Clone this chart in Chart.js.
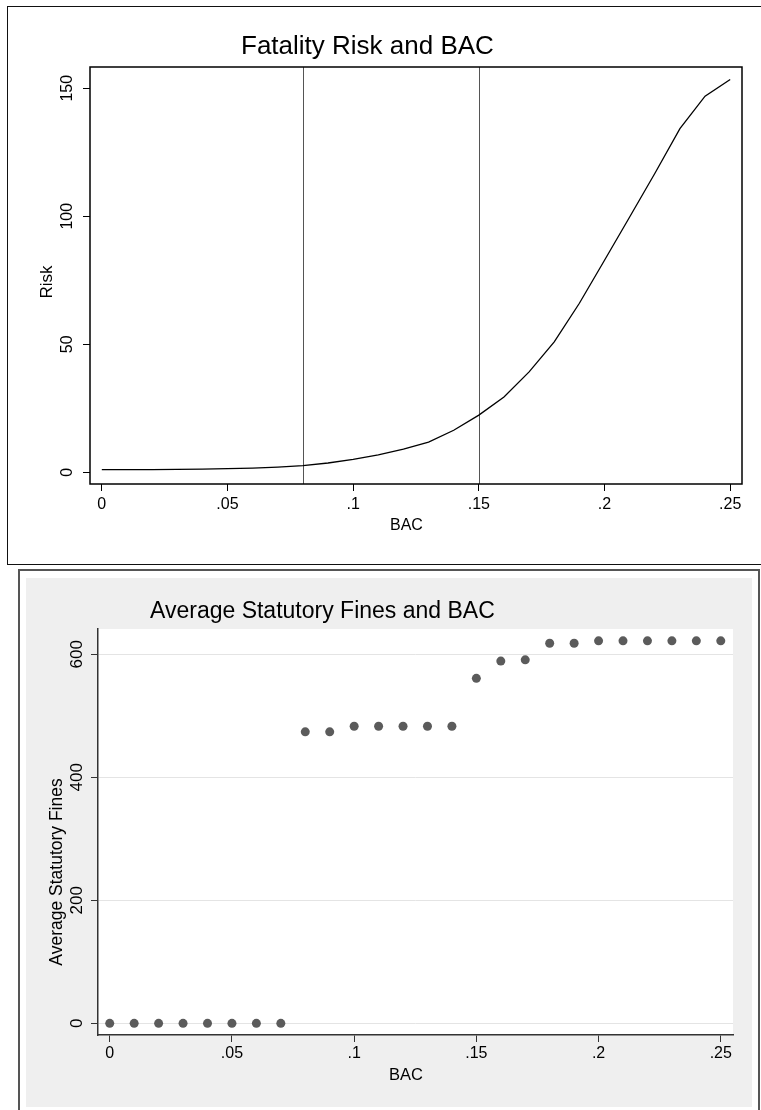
<!DOCTYPE html>
<html lang="en">
<head>
  <meta charset="UTF-8" />
  <title>Fatality Risk / Statutory Fines and BAC</title>
  <script src="https://cdn.jsdelivr.net/npm/chart.js@4.4.1/dist/chart.umd.min.js"></script>
  <style>
    body { margin: 0; background: #fff; font-family: 'Liberation Sans', Arial, sans-serif; }
    .frame1 { position: absolute; left: 7px; top: 6px; width: 770px; height: 559px; border: 1.5px solid #111; box-sizing: border-box; }
    .frame2 { position: absolute; left: 18px; top: 569px; width: 742px; height: 560px; border: 2px solid #555; box-sizing: border-box; }
    .shade { position: absolute; left: 26px; top: 578px; width: 726px; height: 529px; background: #efefef; }
    .wrap { position: absolute; left: 0; width: 761px; }
    #w1 { top: 0; height: 568px; }
    #w2 { top: 570px; height: 540px; }
  </style>
</head>
<body>
  <div class="frame1"></div>
  <div class="frame2"></div>
  <div class="shade"></div>
  <div class="wrap" id="w1"><canvas id="riskChart"></canvas></div>
  <div class="wrap" id="w2"><canvas id="finesChart"></canvas></div>

<script>
  // BAC levels (x) shared by both graphs
  const bac = [0, 0.01, 0.02, 0.03, 0.04, 0.05, 0.06, 0.07, 0.08, 0.09, 0.1, 0.11, 0.12,
               0.13, 0.14, 0.15, 0.16, 0.17, 0.18, 0.19, 0.2, 0.21, 0.22, 0.23, 0.24, 0.25];

  // relative fatality risk
  const risk = [1.0, 1.0, 1.05, 1.1, 1.2, 1.4, 1.6, 2.0, 2.6, 3.6, 5.0, 6.8, 9.0,
                11.8, 16.4, 22.3, 29.4, 39.2, 50.9, 66.0, 82.8, 99.7, 116.7, 134.2, 146.9, 153.4];

  // average statutory fines
  const fines = [0, 0, 0, 0, 0, 0, 0, 0, 474, 474, 483, 483, 483,
                 483, 483, 561, 589, 591, 618, 618, 622, 622, 622, 622, 622, 622];

  // vertical reference lines on the risk graph
  const refLines = [0.08, 0.15];

  const xTickVals = [0, 0.05, 0.1, 0.15, 0.2, 0.25];
  const xTickLabels = ['0', '.05', '.1', '.15', '.2', '.25'];
  const riskTickVals = [0, 50, 100, 150];
  const riskTickLabels = ['0', '50', '100', '150'];
  const fineTickVals = [0, 200, 400, 600];
  const fineTickLabels = ['0', '200', '400', '600'];

  const FONT = "'Liberation Sans', Arial, sans-serif";

  // texts drawn by hand: titles, axis titles, rotated y tick labels
  function textPlugin(cfg) {
    return {
      id: 'texts',
      beforeDraw(chart) {
        if (cfg.plotFill) {
          const a = chart.chartArea;
          const ctx = chart.ctx;
          ctx.save();
          ctx.fillStyle = cfg.plotFill;
          ctx.fillRect(a.left, a.top, a.right - a.left, a.bottom - a.top);
          ctx.restore();
        }
      },
      beforeDatasetsDraw(chart) {
        if (!cfg.refLines) return;
        const ctx = chart.ctx, a = chart.chartArea, xs = chart.scales.x;
        ctx.save();
        ctx.strokeStyle = '#555';
        ctx.lineWidth = 1;
        cfg.refLines.forEach(v => {
          const px = Math.round(xs.getPixelForValue(v)) + 0.5;
          ctx.beginPath();
          ctx.moveTo(px, a.top);
          ctx.lineTo(px, a.bottom);
          ctx.stroke();
        });
        ctx.restore();
      },
      afterDraw(chart) {
        const ctx = chart.ctx, a = chart.chartArea, ys = chart.scales.y;
        ctx.save();
        ctx.fillStyle = '#000';

        if (cfg.box) {
          ctx.strokeStyle = '#000';
          ctx.lineWidth = 1.5;
          ctx.strokeRect(a.left, a.top, a.right - a.left, a.bottom - a.top);
        }

        // title
        ctx.font = cfg.title.size + 'px ' + FONT;
        ctx.textAlign = 'left';
        ctx.textBaseline = 'alphabetic';
        ctx.fillText(cfg.title.text, cfg.title.x, cfg.title.y);

        // x title
        ctx.font = cfg.xTitle.size + 'px ' + FONT;
        ctx.fillText(cfg.xTitle.text, cfg.xTitle.x, cfg.xTitle.y);

        // y title (rotated)
        ctx.save();
        ctx.font = cfg.yTitle.size + 'px ' + FONT;
        ctx.translate(cfg.yTitle.x, cfg.yTitle.y);
        ctx.rotate(-Math.PI / 2);
        ctx.textAlign = 'center';
        ctx.fillText(cfg.yTitle.text, 0, 0);
        ctx.restore();

        // y tick labels (rotated)
        ctx.font = cfg.yTicks.size + 'px ' + FONT;
        ctx.textAlign = 'center';
        cfg.yTicks.vals.forEach((v, i) => {
          const py = ys.getPixelForValue(v);
          ctx.save();
          ctx.translate(cfg.yTicks.x, py);
          ctx.rotate(-Math.PI / 2);
          ctx.fillText(cfg.yTicks.labels[i], 0, 0);
          ctx.restore();
        });
        ctx.restore();
      }
    };
  }

  function xAxis(min, max, pad, tickColor) {
    return {
      type: 'linear',
      min: min,
      max: max,
      afterBuildTicks: s => { s.ticks = xTickVals.map(v => ({ value: v })); },
      afterFit: s => { s.height = 40; },
      ticks: {
        color: '#000',
        padding: pad,
        font: { family: FONT, size: 16 },
        callback: v => xTickLabels[xTickVals.indexOf(v)]
      },
      grid: { drawOnChartArea: false, tickLength: 7, color: tickColor, tickColor: tickColor },
      border: { display: false }
    };
  }

  // ---- Fatality risk ----
  new Chart(document.getElementById('riskChart'), {
    type: 'line',
    data: {
      datasets: [{
        data: bac.map((b, i) => ({ x: b, y: risk[i] })),
        borderColor: '#000',
        borderWidth: 1.3,
        pointRadius: 0,
        tension: 0,
        fill: false
      }]
    },
    options: {
      responsive: true,
      maintainAspectRatio: false,
      animation: false,
      layout: { padding: { left: 80, right: 19, top: 67, bottom: 44 } },
      plugins: { legend: { display: false }, tooltip: { enabled: false }, title: { display: false } },
      scales: {
        x: xAxis(-0.0047, 0.2547, 4, '#000'),
        y: {
          type: 'linear',
          min: -4.6,
          max: 158.3,
          afterBuildTicks: s => { s.ticks = riskTickVals.map(v => ({ value: v })); },
          afterFit: s => { s.width = 10; },
          ticks: { display: false },
          grid: { drawOnChartArea: false, tickLength: 7, color: '#000', tickColor: '#000' },
          border: { display: false }
        }
      }
    },
    plugins: [textPlugin({
      box: true,
      refLines: refLines,
      title: { text: 'Fatality Risk and BAC', x: 241, y: 54, size: 26 },
      xTitle: { text: 'BAC', x: 390, y: 530, size: 16 },
      yTitle: { text: 'Risk', x: 52, y: 282, size: 17 },
      yTicks: { vals: riskTickVals, labels: riskTickLabels, x: 72, size: 16 }
    })]
  });

  // ---- Average statutory fines ----
  new Chart(document.getElementById('finesChart'), {
    type: 'scatter',
    data: {
      datasets: [{
        data: bac.map((b, i) => ({ x: b, y: fines[i] })),
        backgroundColor: '#5b5b5b',
        borderColor: '#5b5b5b',
        borderWidth: 0,
        pointRadius: 4.5
      }]
    },
    options: {
      responsive: true,
      maintainAspectRatio: false,
      animation: false,
      layout: { padding: { left: 88, right: 28, top: 59, bottom: 35 } },
      plugins: { legend: { display: false }, tooltip: { enabled: false }, title: { display: false } },
      scales: {
        x: Object.assign(xAxis(-0.0048, 0.2550, 2, '#333'), { border: { display: true, color: '#333', width: 1.5 } }),
        y: {
          type: 'linear',
          min: -19,
          max: 641.2,
          afterBuildTicks: s => { s.ticks = fineTickVals.map(v => ({ value: v })); },
          afterFit: s => { s.width = 10; },
          ticks: { display: false },
          grid: { drawOnChartArea: true, tickLength: 7, color: '#e4e4e4', tickColor: '#333' },
          border: { display: true, color: '#333', width: 1.5 }
        }
      }
    },
    plugins: [textPlugin({
      plotFill: '#fff',
      title: { text: 'Average Statutory Fines and BAC', x: 150, y: 48, size: 23 },
      xTitle: { text: 'BAC', x: 389, y: 510, size: 16.5 },
      yTitle: { text: 'Average Statutory Fines', x: 62, y: 302, size: 17.5 },
      yTicks: { vals: fineTickVals, labels: fineTickLabels, x: 82, size: 17 }
    })]
  });
</script>
</body>
</html>
